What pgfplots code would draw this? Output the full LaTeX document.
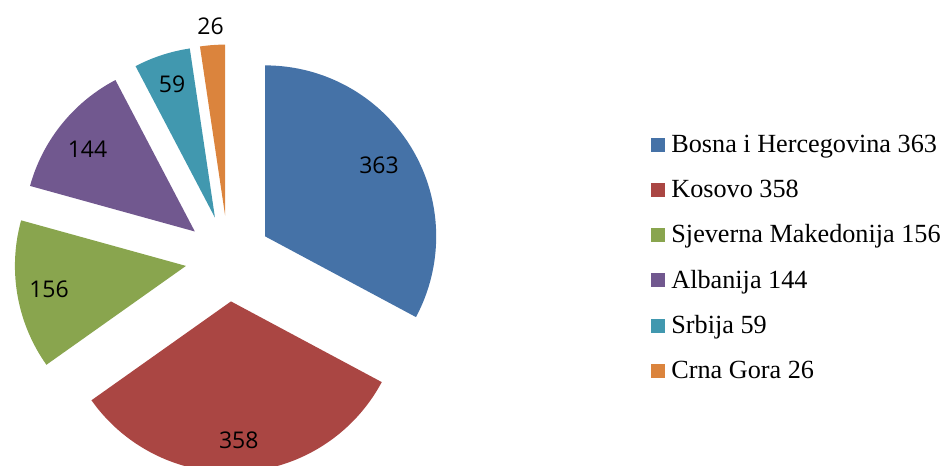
\documentclass[border=0pt]{standalone}
\usepackage{fontspec}
\setmainfont{Liberation Serif}
\newfontfamily\labfont{Open Sans}
\usepackage{pgfplots}
\pgfplotsset{compat=1.18}
\definecolor{cBiH}{RGB}{69,114,167}
\definecolor{cKos}{RGB}{170,70,67}
\definecolor{cSMk}{RGB}{137,165,78}
\definecolor{cAlb}{RGB}{113,88,143}
\definecolor{cSrb}{RGB}{65,152,175}
\definecolor{cCG}{RGB}{219,132,61}
% values: 363, 358, 156, 144, 59, 26 (total 1106)
\newcommand{\pieslice}[3]{% #1 cumulative before, #2 value, #3 colour
  \pgfmathsetmacro\aS{90-(#1)/1106*360}%
  \pgfmathsetmacro\aE{90-(#1+#2)/1106*360}%
  \pgfmathsetmacro\aM{(\aS+\aE)/2}%
  \pgfmathsetmacro\ox{228.3+43*cos(\aM)}%
  \pgfmathsetmacro\oy{207.5+43*sin(\aM)}%
  \edef\doslice{\noexpand\addplot[fill=#3,draw=none,domain=\aE:\aS,samples=120]
    ({\ox+171*cos(x)},{\oy+171*sin(x)}) -- (axis cs:\ox,\oy) -- cycle;}%
  \doslice
}
\newcommand{\legitem}[3]{% y centre (px from top), colour, text
  \fill[#2] (axis cs:651,{466-#1-7}) rectangle (axis cs:665,{466-#1+7});
  \node[anchor=base west,inner sep=0pt,font=\fontsize{13.1}{15}\selectfont] at (axis cs:671,{466-#1-7.7}) {#3};
}
\begin{document}
\begin{tikzpicture}
\begin{axis}[
  width=474pt, height=233pt, scale only axis,
  xmin=0, xmax=948, ymin=0, ymax=466,
  hide axis,
]
\pieslice{0}{363}{cBiH}
\pieslice{363}{358}{cKos}
\pieslice{721}{156}{cSMk}
\pieslice{877}{144}{cAlb}
\pieslice{1021}{59}{cSrb}
\pieslice{1080}{26}{cCG}
% slice labels
\begin{scope}[every node/.style={font=\labfont\fontsize{11.5}{13}\selectfont,inner sep=0pt}]
\node at (axis cs:379,{466-165.5}) {363};
\node at (axis cs:238.8,{466-440.5}) {358};
\node at (axis cs:49,{466-289}) {156};
\node at (axis cs:87.5,{466-149}) {144};
\node at (axis cs:172,{466-84}) {59};
\node at (axis cs:210.5,{466-25.8}) {26};
\end{scope}
% legend
\legitem{145}{cBiH}{Bosna i Hercegovina 363}
\legitem{190}{cKos}{Kosovo 358}
\legitem{235.2}{cSMk}{Sjeverna Makedonija 156}
\legitem{280.5}{cAlb}{Albanija 144}
\legitem{325.7}{cSrb}{Srbija 59}
\legitem{371}{cCG}{Crna Gora 26}
\end{axis}
\pgfresetboundingbox
\path[use as bounding box] (current axis.south west) rectangle (current axis.north east);
\end{tikzpicture}
\end{document}
